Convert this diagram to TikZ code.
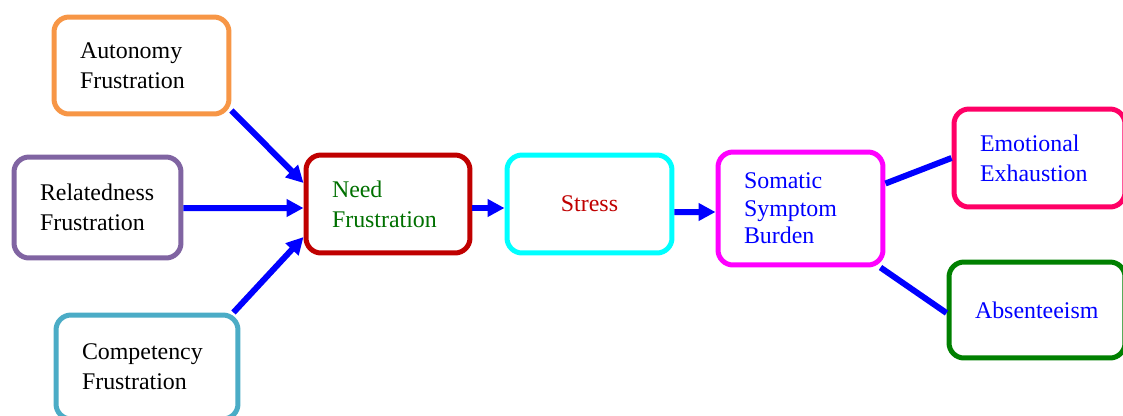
\documentclass[tikz,border=0pt]{standalone}
\usepackage{fontspec}
\setmainfont{Liberation Serif}
\usetikzlibrary{arrows.meta, positioning, calc}
\definecolor{autoorange}{RGB}{247, 150, 70}
\definecolor{relpurple}{RGB}{128, 100, 162}
\definecolor{compteal}{RGB}{75, 172, 198}
\definecolor{needred}{RGB}{192, 0, 0}
\definecolor{needgreen}{RGB}{0, 112, 0}
\definecolor{stresscyan}{RGB}{0, 255, 255}
\definecolor{somamagenta}{RGB}{255, 0, 255}
\definecolor{exhpink}{RGB}{255, 0, 102}
\definecolor{absgreen}{RGB}{0, 128, 0}
\definecolor{flowblue}{RGB}{0, 0, 255}

\begin{document}
\begin{tikzpicture}[x=0.02cm, y=-0.02cm,
	blk/.style={draw, fill=white, rounded corners=0.3cm, line width=0.1cm, inner xsep=0.52cm, inner ysep=0pt, align=left, font=\fontsize{13.6}{17}\selectfont},
	flow/.style={flowblue, line width=0.12cm, -{Triangle[length=0.34cm, width=0.34cm]}},
	link/.style={flowblue, line width=0.12cm}]
			\useasboundingbox (0,0) rectangle (1123,416);

			% Frustration sources
			\node[blk, draw=autoorange, text width=2.46cm, minimum height=1.94cm] (auto) at (141.5,65.5) {Autonomy\\Frustration};
			\node[blk, draw=relpurple, text width=2.3cm, minimum height=2.02cm] (relat) at (97.5,207.5) {Relatedness\\Frustration};
			\node[blk, draw=compteal, text width=2.6cm, minimum height=2.08cm] (comp) at (147,367) {Competency\\Frustration};

			% Main chain
			\node[blk, draw=needred, text=needgreen, text width=2.24cm, minimum height=1.96cm] (need) at (388,204) {Need\\Frustration};
			\node[blk, draw=stresscyan, text=needred, text width=2.26cm, minimum height=1.96cm, align=center] (stress) at (589.5,204) {Stress};
			\node[blk, draw=somamagenta, text=flowblue, text width=2.26cm, minimum height=2.26cm, font=\fontsize{13.6}{15.7}\selectfont] (soma) at (800.5,208.5) {Somatic\\Symptom\\Burden};

			% Outcomes
			\node[blk, draw=exhpink, text=flowblue, text width=2.38cm, minimum height=1.96cm] (exh) at (1039.5,158) {Emotional\\Exhaustion};
			\node[blk, draw=absgreen, text=flowblue, text width=2.48cm, minimum height=1.92cm] (absent) at (1037,310) {Absenteeism};

			% Connectors
			\draw[flow] ($(auto.south east)+(0,-6)$) -- ($(need.west)+(0,-21)$);
			\draw[flow] ($(relat.east)+(0,0.5)$) -- ($(need.west)+(0,4)$);
			\draw[flow] ($(comp.north east)+(-7,0)$) -- ($(need.west)+(0,33)$);
			\draw[flow] ($(need.east)+(0,4)$) -- ($(stress.west)+(0,4)$);
			\draw[flow] ($(stress.east)+(0,8)$) -- ($(soma.west)+(0,3.5)$);
			\draw[link] ($(soma.east)+(0,-25)$) -- (exh.west);
			\draw[link] ($(soma.south east)+(-5,0)$) -- ($(absent.west)+(0,3)$);

		\end{tikzpicture}
\end{document}
